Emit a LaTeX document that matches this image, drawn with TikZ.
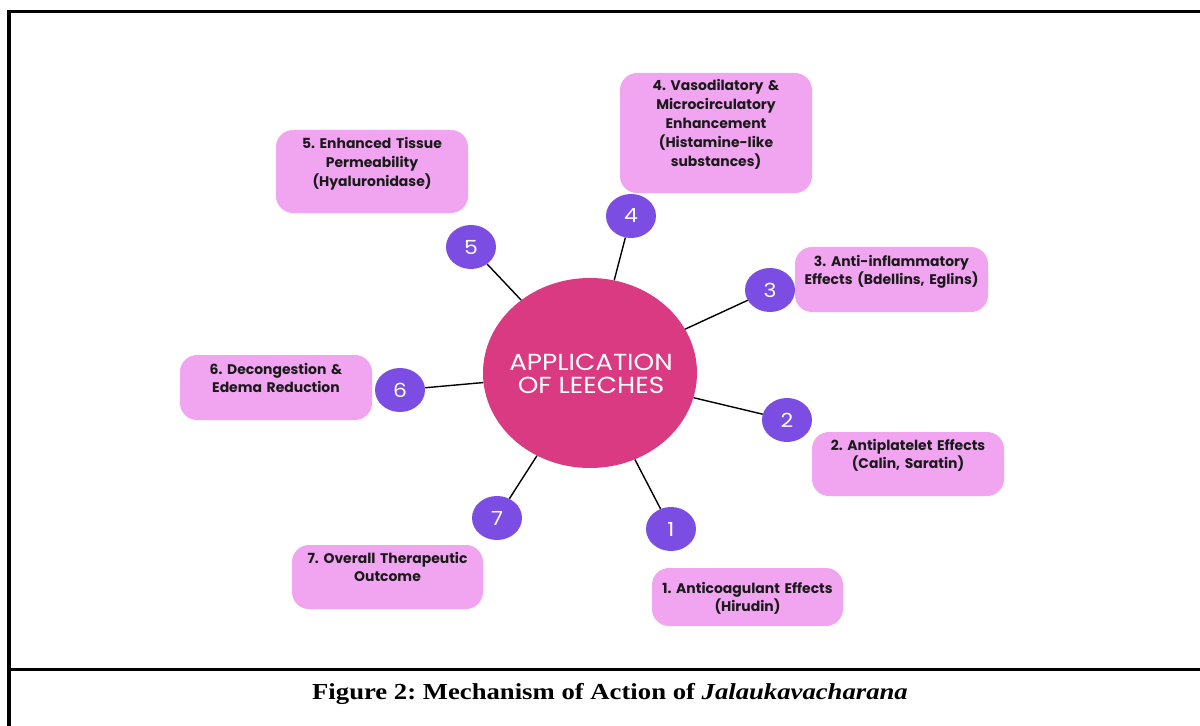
\documentclass[tikz,border=0pt]{standalone}
\usepackage{fontspec}
\setmainfont{Liberation Serif}
\newfontfamily\capfont[FakeStretch=1.165]{Liberation Serif}
\newfontfamily\boxfont{Poppins}
\newfontfamily\ellfont[FakeStretch=1.13]{Poppins}
\usetikzlibrary{shapes.geometric,calc}
\definecolor{mainpink}{HTML}{DA3A81}
\definecolor{numpurple}{HTML}{7B4DE2}
\definecolor{boxpink}{HTML}{F1A5F1}
\definecolor{txtdark}{HTML}{1A1A1A}
\frenchspacing
\hyphenpenalty=10000
\exhyphenpenalty=10000
\begin{document}
\begin{tikzpicture}[x=1bp,y=-1bp,
  pbox/.style={fill=boxpink, draw=none, rounded corners=17bp, inner sep=0pt},
  boxtxt/.style={font=\boxfont\bfseries\fontsize{14}{19}\selectfont, text=txtdark, align=center, text width=200bp, inner sep=0pt},
  numc/.style={ellipse, fill=numpurple, draw=none, minimum width=50bp, minimum height=44bp, inner sep=0pt, text=white, font=\ellfont\fontsize{19.5}{20}\selectfont},
  mainell/.style={ellipse, fill=mainpink, draw=none, minimum width=214bp, minimum height=190bp, inner sep=0pt},
  maintxt/.style={text=white, align=center, inner sep=0pt, font=\ellfont\fontsize{23.3}{23.5}\selectfont},
  conn/.style={draw=black, line width=1.4bp}
]
\useasboundingbox (0,0) rectangle (1200,726);
\fill[white] (0,0) rectangle (1200,726);
% frame
\draw[line width=3.6bp] (9.2,726) -- (9.2,11.7) -- (1200,11.7);
\draw[line width=2.8bp] (9.2,669.7) -- (1200,669.7);

% boxes
\node[pbox, minimum width=192bp, minimum height=120bp] (b4) at (716,133) {};
\node[pbox, minimum width=192bp, minimum height=83bp] (b5) at (372,171.5) {};
\node[pbox, minimum width=193bp, minimum height=65bp] (b3) at (891.5,279.5) {};
\node[pbox, minimum width=192bp, minimum height=64bp] (b2) at (908,464) {};
\node[pbox, minimum width=191bp, minimum height=58bp] (b1) at (747.5,597) {};
\node[pbox, minimum width=191bp, minimum height=64bp] (b7) at (387.5,577) {};
\node[pbox, minimum width=192bp, minimum height=65bp] (b6) at (276,387.5) {};

\node[boxtxt, anchor=base] (t4) at (716,91) {4. Vasodilatory \&\\Microcirculatory\\Enhancement\\(Histamine-like\\substances)};
\node[boxtxt, anchor=base] (t5) at (372,149) {5. Enhanced Tissue\\Permeability\\(Hyaluronidase)};
\node[boxtxt, anchor=base] (t3) at (891.5,266) {3. Anti-inflammatory\\Effects (Bdellins, Eglins)};
\node[boxtxt, anchor=base] (t2) at (908,450) {2. Antiplatelet Effects\\(Calin, Saratin)};
\node[boxtxt, anchor=base] (t1) at (747.5,593) {1. Anticoagulant Effects\\(Hirudin)};
\node[boxtxt, anchor=base] (t7) at (387.5,563) {7. Overall Therapeutic\\Outcome};
\node[boxtxt, anchor=base] (t6) at (276,374) {6. Decongestion \&\\Edema Reduction};

% main
\node[mainell] (m) at (590,373) {};
\node[maintxt] (mt) at (591,374) {APPLICATION\\OF LEECHES};

% number circles
\node[numc] (c1) at (671,529) {1};
\node[numc] (c2) at (787,420) {2};
\node[numc] (c3) at (770,290) {3};
\node[numc] (c4) at (631,216) {4};
\node[numc] (c5) at (471,247) {5};
\node[numc] (c6) at (400,390) {6};
\node[numc] (c7) at (497,518) {7};

\foreach \c in {c1,c2,c3,c4,c5,c6,c7} \draw[conn] (m) -- (\c);

% caption
\node[font=\capfont\bfseries\fontsize{23}{26}\selectfont, anchor=base] (cap) at (610,699) {Figure 2: Mechanism of Action of \textit{Jalaukavacharana}};
\end{tikzpicture}
\end{document}
